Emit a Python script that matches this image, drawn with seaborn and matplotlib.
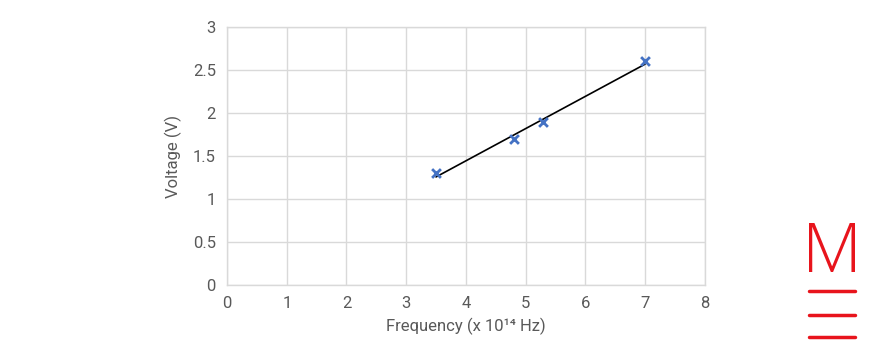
import numpy as np
import pandas as pd
import matplotlib
matplotlib.use("Agg")
import matplotlib.pyplot as plt
import seaborn as sns
from matplotlib.lines import Line2D

# data
frequency = [3.5, 4.8, 5.3, 7.0]
voltage = [1.3, 1.7, 1.9, 2.6]
x_ticks = [0, 1, 2, 3, 4, 5, 6, 7, 8]
y_ticks = [0, 0.5, 1, 1.5, 2, 2.5, 3]
y_tick_labels = ["0", "0.5", "1", "1.5", "2", "2.5", "3"]

sns.set_style("white")
plt.rcParams['font.family'] = ['Roboto', 'DejaVu Sans']

df = pd.DataFrame({"freq": frequency, "volt": voltage})

fig = plt.figure(figsize=(8.7, 3.6), dpi=100)
ax = fig.add_axes([0.261, 0.208, 0.549, 0.717])

grid_c = "#d9d9d9"
text_c = "#595959"

# linear trendline through the points
sns.regplot(data=df, x="freq", y="volt", ax=ax, ci=None, scatter=False,
            line_kws={"color": "black", "lw": 1.2})
sns.scatterplot(data=df, x="freq", y="volt", ax=ax, marker="x", s=40,
                color="#4472C4", linewidth=2, zorder=4)

ax.set_xlim(0, 8)
ax.set_ylim(0, 3)
ax.set_xticks(x_ticks)
ax.set_yticks(y_ticks)
ax.set_yticklabels(y_tick_labels)
ax.grid(True, color=grid_c, lw=1)
ax.set_axisbelow(True)
for s in ax.spines.values():
    s.set_color(grid_c)
    s.set_linewidth(1)
ax.tick_params(length=0, colors=text_c, labelsize=12, pad=8)
ax.set_xlabel("Frequency (x 10¹⁴ Hz)", color=text_c, fontsize=12, labelpad=5)
ax.set_ylabel("Voltage (V)", color=text_c, fontsize=12, labelpad=8)

# logo
red = "#e8141c"
fig.text(0.956, 0.245, "M", color=red, fontsize=50, ha="center", va="baseline",
         fontweight="light", family=["Open Sans", "DejaVu Sans"])
for yy in [291, 315, 337]:
    fig.add_artist(Line2D([809 / 870, 855 / 870], [1 - yy / 360, 1 - yy / 360],
                          color=red, lw=2.5, transform=fig.transFigure))

fig.savefig("out.png", dpi=100)
